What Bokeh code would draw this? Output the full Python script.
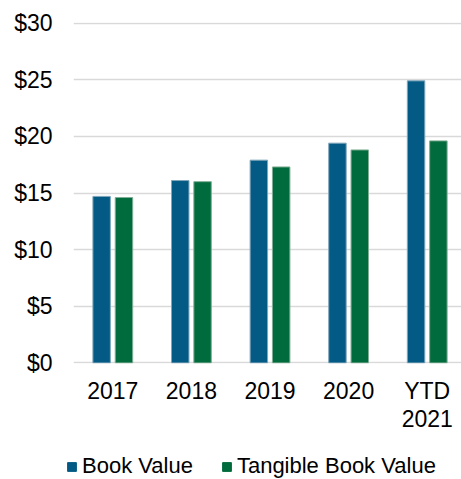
from bokeh.plotting import figure
from bokeh.layouts import column, row
from bokeh.models import (ColumnDataSource, Range1d, FixedTicker, Legend, LegendItem, LinearAxis)
from bokeh.transform import dodge
from bokeh.embed import file_html
from bokeh.resources import INLINE

categories = ["2017", "2018", "2019", "2020", "YTD 2021"]
label_line1 = ["2017", "2018", "2019", "2020", "YTD"]
label_line2 = ["", "", "", "", "2021"]
book_value = [14.7, 16.1, 17.9, 19.4, 24.9]
tangible_book_value = [14.6, 16.0, 17.3, 18.8, 19.6]
y_ticks = [0, 5, 10, 15, 20, 25, 30]
y_tick_labels = ["$0", "$5", "$10", "$15", "$20", "$25", "$30"]
series_names = ["Book Value", "Tangible Book Value"]

FONT = "Liberation Sans"
BLUE = "#035B85"
GREEN = "#006B3C"
TICK_SIZE = "23px"

# category slots on a numeric axis: slot i is centred at i + 0.5
xpos = [i + 0.5 for i in range(len(categories))]
source = ColumnDataSource(dict(x=xpos, cat=categories, bv=book_value, tbv=tangible_book_value))

p = figure(
    width=461, height=433,
    x_range=Range1d(0, 4.936),   # plot area runs slightly past the right edge
    y_range=Range1d(-0.05, 30.05),
    output_backend="svg", toolbar_location=None,
    min_border_left=73, min_border_right=0, min_border_top=22, min_border_bottom=70,
)
p.outline_line_color = None
p.background_fill_color = "white"
p.border_fill_color = "white"

p.vbar(x=dodge("x", -0.142), top="bv", width=0.222, source=source,
       fill_color=BLUE, line_color="#7FA6BA", line_width=1)
p.vbar(x=dodge("x", 0.142), top="tbv", width=0.222, source=source,
       fill_color=GREEN, line_color="#7FAE95", line_width=1)

# x axis: first line of labels, then a second axis for the second line
p.xaxis[0].ticker = FixedTicker(ticks=xpos)
p.xaxis[0].major_label_overrides = {x: l for x, l in zip(xpos, label_line1)}
line2_ticks = [x for x, l in zip(xpos, label_line2) if l]
xaxis2 = LinearAxis(ticker=FixedTicker(ticks=line2_ticks),
                    major_label_overrides={x: l for x, l in zip(xpos, label_line2) if l})
p.add_layout(xaxis2, "below")

p.xgrid.grid_line_color = None
p.ygrid.grid_line_color = "#D9D9D9"
p.ygrid.grid_line_width = 1.7
p.yaxis.ticker = FixedTicker(ticks=y_ticks)
p.yaxis.major_label_overrides = {t: l for t, l in zip(y_ticks, y_tick_labels)}
for ax in (p.xaxis[0], xaxis2, p.yaxis[0]):
    ax.axis_line_color = None
    ax.major_tick_line_color = None
    ax.minor_tick_line_color = None
    ax.major_tick_out = 0
    ax.major_tick_in = 0
    ax.minor_tick_out = 0
    ax.minor_tick_in = 0
    ax.major_label_text_font = FONT
    ax.major_label_text_font_size = TICK_SIZE
    ax.major_label_text_color = "#000000"
p.xaxis[0].major_label_standoff = 14
xaxis2.major_label_standoff = 3
p.yaxis.major_label_standoff = 21

# legend strip below the chart (swatch renderers sit outside the strip's visible range)
pl = figure(width=461, height=46, output_backend="svg", toolbar_location=None,
            x_axis_type=None, y_axis_type=None,
            min_border=0, min_border_left=0, min_border_right=0,
            min_border_top=0, min_border_bottom=0,
            x_range=Range1d(0, 1), y_range=Range1d(0, 1))
pl.grid.grid_line_color = None
pl.outline_line_color = None
pl.border_fill_color = "white"
lr1 = pl.vbar(x=[5], top=[5], bottom=[4], width=0.1, fill_color=BLUE, line_color=BLUE)
lr2 = pl.vbar(x=[5], top=[5], bottom=[4], width=0.1, fill_color=GREEN, line_color=GREEN)
legend = Legend(
    items=[LegendItem(label=series_names[0], renderers=[lr1]),
           LegendItem(label=series_names[1], renderers=[lr2])],
    orientation="horizontal",
    location=(66, 0),
    padding=0, margin=0, spacing=28,
    glyph_width=11, glyph_height=11, label_standoff=5,
    label_text_font=FONT, label_text_font_size="22px", label_text_color="#000000",
    border_line_color=None, background_fill_alpha=0,
)
pl.add_layout(legend, "center")

layout = column(p, row(pl), spacing=0)
open("out.html", "w").write(file_html(layout, INLINE))
